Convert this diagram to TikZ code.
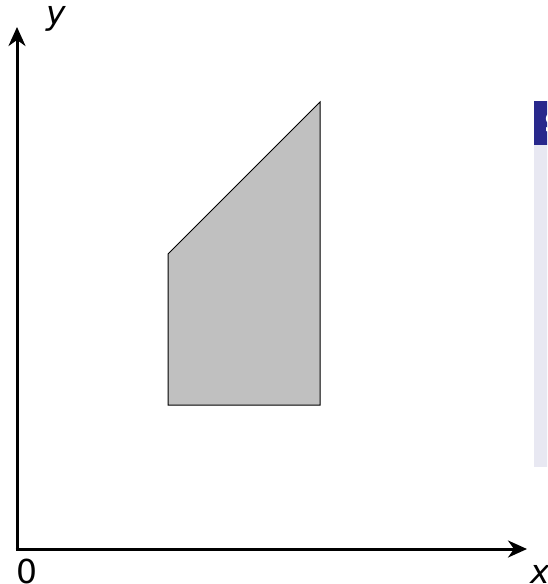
\documentclass[tikz,border=0pt]{standalone}
\usepackage{fontspec}
\setmainfont{DejaVu Sans}
\usetikzlibrary{arrows.meta}
\definecolor{blockhead}{RGB}{40,40,140}
\definecolor{blockbody}{RGB}{232,232,242}
\definecolor{shapegray}{RGB}{192,192,192}
\tikzset{
  axis/.style={line width=3pt,-{Stealth[length=19pt,width=17pt,inset=6pt]}},
  lbl/.style={font=\fontsize{33}{35}\selectfont, inner sep=0pt},
  grayshape/.style={draw=black, line width=1pt, fill=shapegray}
}
\begin{document}
\begin{tikzpicture}[x=1pt,y=-1pt]
\useasboundingbox (0,0) rectangle (547,584);
\clip (0,0) rectangle (547,584);
% clipped block on the right
\fill[blockbody] (534,145) rectangle (560,467);
\fill[blockhead] (534,101) rectangle (560,145);
\node[anchor=west, text=white, font=\fontsize{26}{28}\selectfont\bfseries, inner sep=0pt] (blk) at (544,123) {S};
% shape
\draw[grayshape] (168,405) -- (320,405) -- (320,102) -- (168,254) -- cycle;
% axes
\coordinate (o) at (17,549);
\coordinate (ytip) at (17,27);
\coordinate (xtip) at (527,549);
\draw[axis] ([yshift=1.5pt]o) -- (ytip);
\draw[axis] ([xshift=-1.5pt]o) -- (xtip);
\node[lbl, font=\fontsize{33}{35}\selectfont\itshape] (ylab) at (56,19) {y};
\node[lbl, font=\fontsize{33}{35}\selectfont\itshape] (xlab) at (540,574) {x};
\node[lbl] (zero) at (27,571) {0};
\end{tikzpicture}
\end{document}
